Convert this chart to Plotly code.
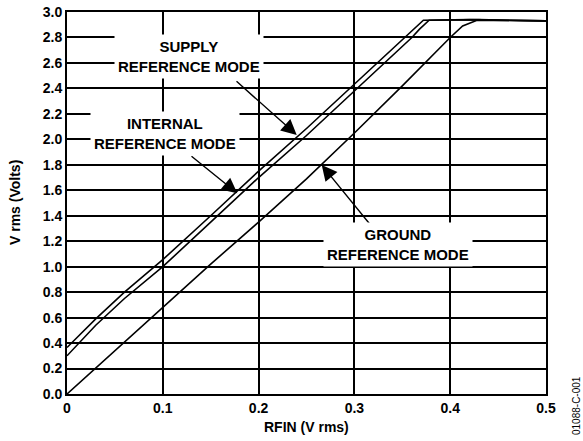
import plotly.graph_objects as go

# ---- data ----
rfin_supply = [0.0, 0.03, 0.06, 0.10, 0.15, 0.20, 0.25, 0.30, 0.35, 0.362, 0.372, 0.42, 0.50]
v_supply = [0.365, 0.59, 0.80, 1.055, 1.40, 1.75, 2.085, 2.435, 2.785, 2.87, 2.935, 2.94, 2.93]

rfin_internal = [0.0, 0.03, 0.06, 0.10, 0.15, 0.20, 0.25, 0.30, 0.35, 0.36, 0.368, 0.378, 0.43, 0.50]
v_internal = [0.30, 0.54, 0.75, 1.00, 1.35, 1.70, 2.03, 2.38, 2.73, 2.80, 2.865, 2.935, 2.94, 2.93]

rfin_ground = [0.0, 0.05, 0.10, 0.15, 0.20, 0.25, 0.30, 0.35, 0.40, 0.413, 0.428, 0.50]
v_ground = [0.0, 0.34, 0.68, 1.02, 1.35, 1.69, 2.05, 2.42, 2.80, 2.89, 2.935, 2.93]

x_ticks = [0, 0.1, 0.2, 0.3, 0.4, 0.5]
x_tick_labels = ["0", "0.1", "0.2", "0.3", "0.4", "0.5"]
y_ticks = [0.0, 0.2, 0.4, 0.6, 0.8, 1.0, 1.2, 1.4, 1.6, 1.8, 2.0, 2.2, 2.4, 2.6, 2.8, 3.0]
y_tick_labels = [f"{v:.1f}" for v in y_ticks]

labels = ["SUPPLY<br>REFERENCE MODE", "INTERNAL<br>REFERENCE MODE", "GROUND<br>REFERENCE MODE"]
label_pos = [(0.1273, 2.647), (0.1018, 2.042), (0.3455, 1.178)]
arrow_tail = [(0.1754, 2.466), (0.1284, 1.877), (0.3194, 1.304)]
arrow_head = [(0.2398, 2.034), (0.1778, 1.576), (0.2659, 1.798)]

FONT = "Liberation Sans, Arial, Helvetica, sans-serif"

fig = go.Figure()
for xs, ys, name in [(rfin_supply, v_supply, "Supply reference mode"),
                     (rfin_internal, v_internal, "Internal reference mode"),
                     (rfin_ground, v_ground, "Ground reference mode")]:
    fig.add_trace(go.Scatter(x=xs, y=ys, mode="lines", name=name,
                             line=dict(color="black", width=1.6), showlegend=False))

annotations = []
for (ax_, ay_), (hx, hy) in zip(arrow_tail, arrow_head):
    annotations.append(dict(x=hx, y=hy, ax=ax_, ay=ay_, xref="x", yref="y",
                            axref="x", ayref="y", text="", showarrow=True,
                            arrowhead=2, arrowsize=2.2, arrowwidth=1.4,
                            arrowcolor="black", standoff=0, startstandoff=0))
for txt, (lx, ly) in zip(labels, label_pos):
    annotations.append(dict(x=lx, y=ly, xref="x", yref="y", text=txt, showarrow=False,
                            bgcolor="white", borderpad=3,
                            font=dict(family=FONT, size=15, color="black", weight="bold")))

# plot area: 479 x 382 px
annotations.append(dict(x=-52 / 479, y=0.5, xref="paper", yref="paper", text="V rms (Volts)",
                        textangle=-90, showarrow=False, xanchor="center", yanchor="middle",
                        font=dict(family=FONT, size=14, color="black", weight="bold")))
annotations.append(dict(x=0.5, y=-33 / 382, xref="paper", yref="paper", text="RFIN (V rms)",
                        showarrow=False, xanchor="center", yanchor="middle",
                        font=dict(family=FONT, size=14, color="black", weight="bold")))
annotations.append(dict(x=1 + 31 / 479, y=-12 / 382, xref="paper", yref="paper", text="01088-C-001",
                        textangle=-90, showarrow=False, xanchor="center", yanchor="middle",
                        font=dict(family=FONT, size=10, color="black")))

fig.update_layout(
    width=583, height=441,
    margin=dict(l=67, r=37, t=12, b=47, autoexpand=False),
    paper_bgcolor="white", plot_bgcolor="white",
    annotations=annotations,
    font=dict(family=FONT, color="black"),
)
fig.update_xaxes(range=[0, 0.5], tickvals=x_ticks, ticktext=x_tick_labels,
                 showgrid=True, gridcolor="black", gridwidth=1.5,
                 showline=True, linecolor="black", linewidth=2, mirror=True,
                 ticks="", zeroline=False, ticklabeloverflow="allow",
                 tickfont=dict(family=FONT, size=14, color="black", weight="bold"))
fig.update_yaxes(range=[0, 3.0], tickvals=y_ticks, ticktext=y_tick_labels,
                 showgrid=True, gridcolor="black", gridwidth=1.5,
                 showline=True, linecolor="black", linewidth=2, mirror=True,
                 ticks="", zeroline=False, ticklabeloverflow="allow",
                 tickfont=dict(family=FONT, size=14, color="black", weight="bold"))

fig.write_html("out.html", config={"displayModeBar": False},
               post_script="document.body.style.margin='0px';document.body.style.overflow='hidden';")
